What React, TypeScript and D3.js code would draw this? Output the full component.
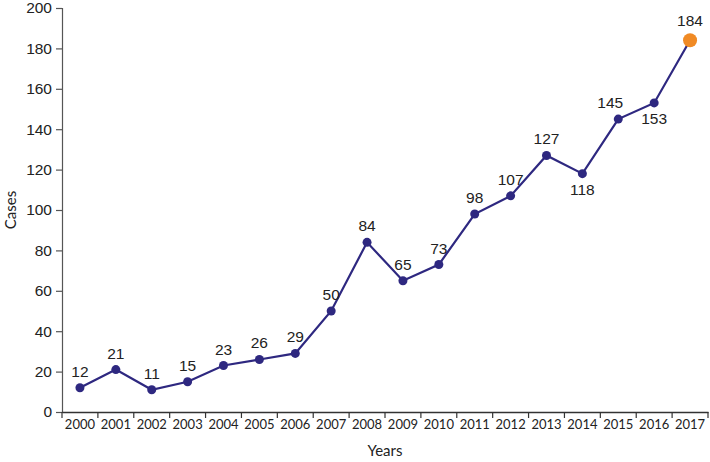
import React, { useEffect, useRef } from "react";
import * as d3 from "d3";

const years = [
  "2000", "2001", "2002", "2003", "2004", "2005", "2006", "2007", "2008",
  "2009", "2010", "2011", "2012", "2013", "2014", "2015", "2016", "2017",
];
const cases = [12, 21, 11, 15, 23, 26, 29, 50, 84, 65, 73, 98, 107, 127, 118, 145, 153, 184];
const yTicks = [0, 20, 40, 60, 80, 100, 120, 140, 160, 180, 200];
const labelsBelow = ["2014", "2016"];

const width = 710;
const height = 462;
const margin = { top: 8, right: 2, bottom: 50, left: 62 };

const lineColor = "#2e2880";
const lastColor = "#f08a24";
const textColor = "#222";

export default function App() {
  const svgRef = useRef<SVGSVGElement>(null);

  useEffect(() => {
    const root = d3.select(svgRef.current);
    root.selectAll("*").remove();

    const plotW = width - margin.left - margin.right;
    const plotH = height - margin.top - margin.bottom;

    const svg = root
      .append("g")
      .attr("transform", `translate(${margin.left},${margin.top})`);

    const x = d3.scaleBand().domain(years).range([0, plotW]).padding(0);
    const y = d3.scaleLinear().domain([0, 200]).range([plotH, 0]);
    const cx = (d: string) => (x(d) || 0) + x.bandwidth() / 2;

    // Y axis
    const yAxis = svg
      .append("g")
      .call(d3.axisLeft(y).tickValues(yTicks).tickSize(6).tickPadding(4));
    yAxis.select(".domain").attr("stroke", "#555").attr("stroke-width", 1.2);
    yAxis.selectAll(".tick line").attr("stroke", "#555").attr("stroke-width", 1.2);
    yAxis
      .selectAll("text")
      .attr("fill", textColor)
      .style("font-family", "Liberation Sans, Arial, sans-serif")
      .style("font-size", "15.5px");

    // X axis, ticks at band edges
    const xAxis = svg
      .append("g")
      .attr("transform", `translate(0,${plotH})`)
      .call(d3.axisBottom(x).tickSize(0).tickPadding(8));
    xAxis.select(".domain").attr("stroke", "#333").attr("stroke-width", 1.4);
    xAxis
      .selectAll("text")
      .attr("fill", textColor)
      .style("font-family", "Lato, 'Open Sans', sans-serif")
      .style("font-size", "13px");
    xAxis
      .selectAll("line.edge")
      .data(d3.range(years.length + 1))
      .enter()
      .append("line")
      .attr("class", "edge")
      .attr("x1", (i) => i * x.bandwidth())
      .attr("x2", (i) => i * x.bandwidth())
      .attr("y1", 0)
      .attr("y2", 6)
      .attr("stroke", "#333")
      .attr("stroke-width", 1.2);

    // Axis titles
    svg
      .append("text")
      .attr("x", plotW / 2)
      .attr("y", plotH + 44)
      .attr("text-anchor", "middle")
      .attr("fill", textColor)
      .style("font-family", "Lato, 'Open Sans', sans-serif")
      .style("font-size", "15px")
      .text("Years");
    svg
      .append("text")
      .attr("transform", `translate(${-46},${plotH / 2}) rotate(-90)`)
      .attr("text-anchor", "middle")
      .attr("fill", textColor)
      .style("font-family", "Lato, 'Open Sans', sans-serif")
      .style("font-size", "15px")
      .text("Cases");

    // Line
    const line = d3
      .line<number>()
      .x((d, i) => cx(years[i]))
      .y((d) => y(d));
    svg
      .append("path")
      .datum(cases)
      .attr("fill", "none")
      .attr("stroke", lineColor)
      .attr("stroke-width", 2.2)
      .attr("d", line);

    // Points
    svg
      .selectAll("circle")
      .data(cases)
      .enter()
      .append("circle")
      .attr("cx", (d, i) => cx(years[i]))
      .attr("cy", (d) => y(d))
      .attr("r", (d, i) => (i === cases.length - 1 ? 7 : 4.5))
      .attr("fill", (d, i) => (i === cases.length - 1 ? lastColor : lineColor));

    // Value labels
    svg
      .selectAll("text.val")
      .data(cases)
      .enter()
      .append("text")
      .attr("class", "val")
      .attr("x", (d, i) => cx(years[i]) + (years[i] === "2015" ? -8 : 0))
      .attr("y", (d, i) =>
        labelsBelow.includes(years[i])
          ? y(d) + 21
          : y(d) - (i === cases.length - 1 ? 14 : 11)
      )
      .attr("text-anchor", "middle")
      .attr("fill", textColor)
      .style("font-family", "Liberation Sans, Arial, sans-serif")
      .style("font-size", "15.5px")
      .text((d) => d);
  }, []);

  return (
    <svg
      ref={svgRef}
      width={width}
      height={height}
      style={{ position: "absolute", left: 0, top: 0, background: "#fff" }}
    />
  );
}
